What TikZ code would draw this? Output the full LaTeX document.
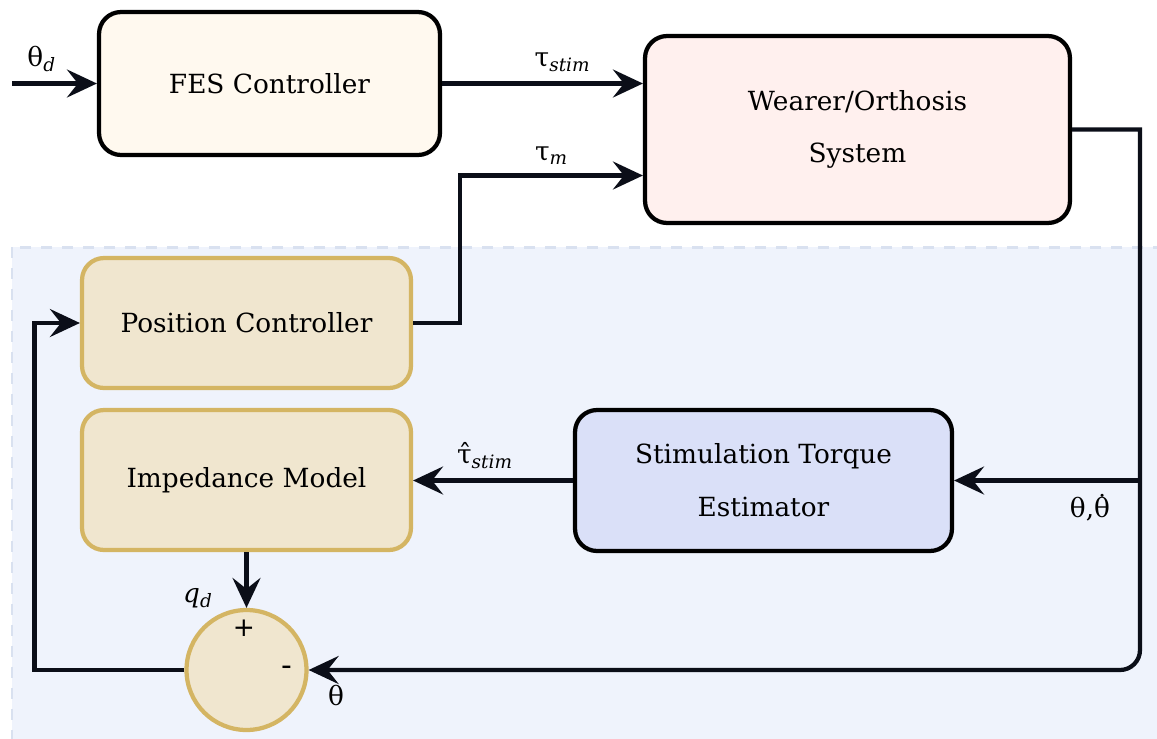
\documentclass[tikz,border=0pt]{standalone}
\usepackage{fontspec}
\setmainfont{DejaVu Serif}
\setsansfont{DejaVu Sans}
\usepackage{tikz}
\usetikzlibrary{arrows.meta,positioning,calc}
\definecolor{fescream}{HTML}{FFF9EF}
\definecolor{plantpink}{HTML}{FFF0EE}
\definecolor{goldfill}{HTML}{F0E6CF}
\definecolor{goldline}{HTML}{D4B563}
\definecolor{estimblue}{HTML}{DAE0F8}
\definecolor{zonefill}{HTML}{EFF3FC}
\definecolor{zoneline}{HTML}{D9E1F0}
\definecolor{wire}{HTML}{0B0E18}
\newcommand{\thetadot}{\setbox0\hbox{θ}\rlap{θ}\hbox to \wd0{\hss\raisebox{0.12em}{˙}\hss}}

\begin{document}
\begin{tikzpicture}[x=0.02cm, y=-0.02cm, font=\fontsize{15}{30}\selectfont,
    block/.style={draw=black, line width=0.085cm, rounded corners=0.44cm, align=center, inner sep=0pt},
    goldblock/.style={block, draw=goldline, fill=goldfill},
    sig/.style={draw=wire, line width=0.085cm, -{Stealth[length=0.6cm, width=0.56cm, inset=0.22cm]}},
    zone/.style={fill=zonefill, draw=zoneline, line width=0.06cm, dash pattern=on 0.22cm off 0.2cm}]
        \useasboundingbox (0,0) rectangle (1157,738);
        \begin{scope}
            \clip (0,0) rectangle (1157,738);
            \draw[zone] (12,247) rectangle (1200,790);
        \end{scope}
        \node[block, fill=fescream, minimum width=6.82cm, minimum height=2.86cm] (fes) at (269.5,83.5) {FES Controller};
        \node[block, fill=plantpink, minimum width=8.5cm, minimum height=3.74cm] (plant) at (857.5,129.5) {Wearer/Orthosis\\System};
        \node[goldblock, minimum width=6.58cm, minimum height=2.6cm] (posctrl) at (246.5,323) {Position Controller};
        \node[goldblock, minimum width=6.58cm, minimum height=2.8cm] (impmodel) at (246.5,480) {Impedance Model};
        \node[block, fill=estimblue, minimum width=7.54cm, minimum height=2.82cm] (estim) at (763.5,480.5) {Stimulation Torque\\Estimator};
        \node[circle, draw=goldline, fill=goldfill, line width=0.085cm, minimum size=2.4cm, inner sep=0pt] (sum) at (246.5,670) {};
        \node[font=\sffamily\fontsize{15}{16}\selectfont] (plus) at (244,628) {+};
        \node[font=\sffamily\fontsize{17}{18}\selectfont] (minus) at (287,671) {-};
        \coordinate (thd) at (12,83.5);
        \coordinate (tap) at (1140,480.5);
        \draw[sig] (thd) -- node[above=2pt, pos=0.35] (thdlbl) {θ\textsubscript{\textit{d}}} (fes.west);
        \draw[sig] (fes.east) -- node[above=2pt, pos=0.6] (tstimlbl) {τ\textsubscript{\textit{stim}}} ($(plant.west)+(0,-46)$);
        \draw[sig] (posctrl.east) -- ++(47,0) |- node[above=2pt, pos=0.75] (tmlbl) {τ\textsubscript{\textit{m}}} ($(plant.west)+(0,46)$);
        \draw[sig] (plant.east) -| (tap) [rounded corners=0.4cm] |- (sum.east);
        \draw[sig] (tap) -- (estim.east);
        \draw[sig] (estim.west) -- node[above=2pt, pos=0.55] (testlbl) {τ̂\textsubscript{\textit{stim}}} (estim.west -| impmodel.east);
        \draw[sig] (impmodel.south) -- (sum.north);
        \draw[sig] (sum.west) -- ++(-150,0) |- (posctrl.west);
        \node (fblbl) at (1090,508) {θ,\thetadot};
        \node (qdlbl) at (198,598) {\textit{q\textsubscript{d}}};
        \node (thlbl) at (336,695) {θ};
\end{tikzpicture}
\end{document}
